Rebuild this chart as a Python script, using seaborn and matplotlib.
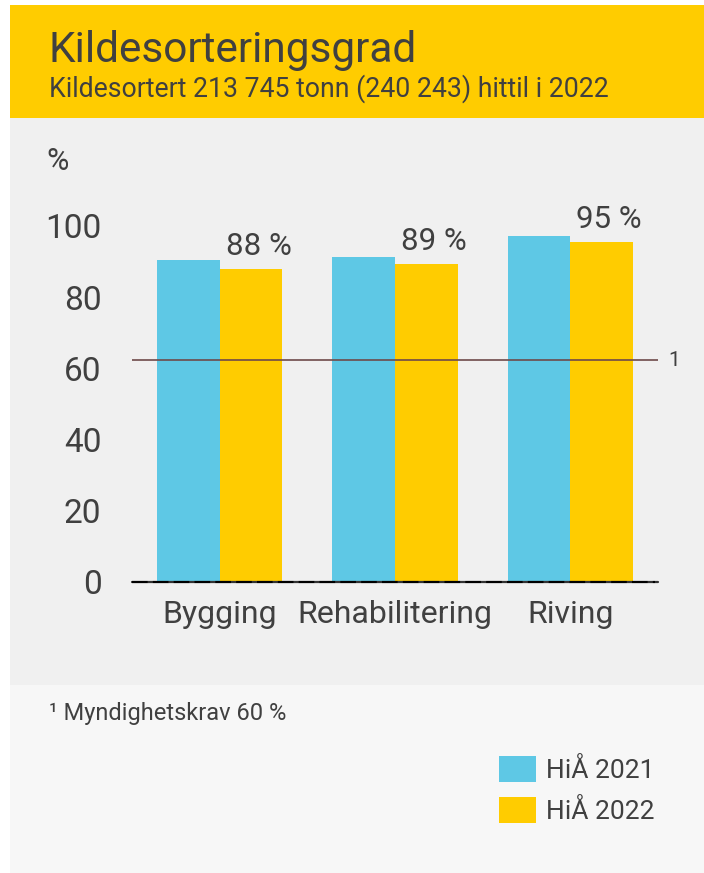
import numpy as np
import pandas as pd
import matplotlib
matplotlib.use("Agg")
import matplotlib.pyplot as plt
from matplotlib.patches import Rectangle
import matplotlib.transforms as mtransforms
import seaborn as sns

# ---- data ----
categories = ["Bygging", "Rehabilitering", "Riving"]
series = ["HiÅ 2021", "HiÅ 2022"]
values_2021 = [90.4, 91.4, 97.1]
values_2022 = [88.0, 89.4, 95.4]
yticks = [0, 20, 40, 60, 80, 100]
threshold_line = 62.3
title = "Kildesorteringsgrad"
subtitle = "Kildesortert 213 745 tonn (240 243) hittil i 2022"
footnote = "¹ Myndighetskrav 60 %"

df = pd.DataFrame({
    "kategori": categories * 2,
    "serie": [series[0]] * 3 + [series[1]] * 3,
    "verdi": values_2021 + values_2022,
})

BLUE = "#5EC8E5"
YELLOW = "#FFCC00"
TXT = "#404040"

sns.set_theme(style="white")
plt.rcParams["font.family"] = ["Roboto", "DejaVu Sans"]

W, H = 704, 873
fig = plt.figure(figsize=(W / 100, H / 100), dpi=100)
fig.patch.set_facecolor("white")

def px_rect(x0, y0, x1, y1, color):
    fig.add_artist(Rectangle((x0 / W, 1 - y1 / H), (x1 - x0) / W, (y1 - y0) / H,
                             transform=fig.transFigure, facecolor=color,
                             edgecolor="none", zorder=0))

px_rect(10, 5, W, 118, YELLOW)
px_rect(10, 118, W, 685, "#F0F0F0")
px_rect(10, 685, W, 873, "#F7F7F7")

fig.text(49 / W, 1 - 62 / H, title, fontsize=30.5, color=TXT, va="baseline", ha="left")
fig.text(49 / W, 1 - 97 / H, subtitle, fontsize=19.2, color=TXT, va="baseline", ha="left")

ax = fig.add_axes([132 / W, (H - 581.5) / H, 526 / W, 105 * 3.555 / H])
ax.set_facecolor("none")
sns.barplot(data=df, x="kategori", y="verdi", hue="serie", palette=[BLUE, YELLOW],
            width=0.714, saturation=1, linewidth=0, ax=ax, legend=True, zorder=2)
handles, labels = ax.get_legend_handles_labels()
ax.get_legend().remove()

ax.set_xlim(-0.5, 2.5)
ax.set_ylim(0, 105)
ax.set_yticks(yticks)
ax.set_yticklabels([str(v) for v in yticks])
ax.tick_params(axis="y", length=0, pad=22, labelsize=24, labelcolor=TXT)
ax.tick_params(axis="x", length=0, pad=13, labelsize=23, labelcolor=TXT)
ax.set_xlabel("")
ax.set_ylabel("")
for s in ax.spines.values():
    s.set_visible(False)
ax.grid(False)

# threshold line
ax.axhline(threshold_line, color="#6E4A4A", lw=1.2, zorder=3)
ax.text((674.5 - 132) / 526, threshold_line, "1", transform=ax.get_yaxis_transform(),
        fontsize=15, color=TXT, va="center", ha="center")

# baseline: solid + dashed
ax.axhline(0, color="#333333", lw=1.6, zorder=4, clip_on=False)
ax.plot([-0.5, 2.485], [0, 0], color="black", lw=1.5, dashes=(7.5, 2.5),
        zorder=5, clip_on=False)

# value labels over 2022 bars
off = mtransforms.offset_copy(ax.transData, fig=fig, x=5.5, y=10, units="points")
for bar, v in zip(ax.containers[1], values_2022):
    xc = bar.get_x() + bar.get_width() / 2
    ax.text(xc, bar.get_height(), f"{v:.0f} %", transform=off, ha="center",
            va="baseline", fontsize=22.5, color=TXT, clip_on=False)

# % label
fig.text(57.5 / W, 1 - 161 / H, "%", fontsize=22, color=TXT, ha="center", va="center")

# footnote
fig.text(49 / W, 1 - 720 / H, footnote, fontsize=17, color=TXT, ha="left", va="baseline")

# legend
leg = fig.legend(handles, labels, loc="upper left", bbox_to_anchor=(499 / W, 1 - 756 / H),
                 frameon=False, fontsize=19, handlelength=1.4, handleheight=1.12,
                 labelspacing=0.55, handletextpad=0.4, borderpad=0, borderaxespad=0)
for t in leg.get_texts():
    t.set_color(TXT)

fig.savefig("out.png", dpi=100)
